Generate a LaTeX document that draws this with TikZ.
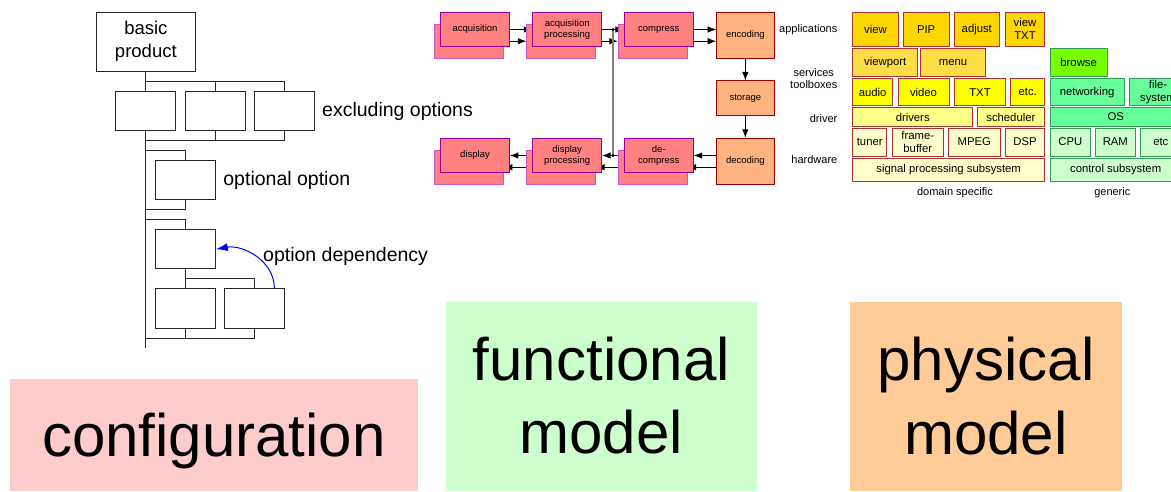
\documentclass[tikz,border=0pt]{standalone}
\usepackage{fontspec}
\setmainfont{Liberation Sans}
\usetikzlibrary{arrows.meta,calc,backgrounds}

\definecolor{cfgfill}{HTML}{FFCCCC}
\definecolor{funfill}{HTML}{CCFFCC}
\definecolor{phyfill}{HTML}{FFCC99}
\definecolor{fnfill}{HTML}{FF8080}
\definecolor{fnline}{HTML}{990099}
\definecolor{fnbackline}{HTML}{CC55CC}
\definecolor{orgfill}{HTML}{FFB380}
\definecolor{orgline}{HTML}{990000}
\definecolor{domline}{HTML}{A83232}
\definecolor{genline}{HTML}{339955}
\definecolor{goldfill}{HTML}{FFD700}
\definecolor{goldlight}{HTML}{FFDD44}
\definecolor{yelfill}{HTML}{FFFF00}
\definecolor{drvfill}{HTML}{FFFF88}
\definecolor{hwfill}{HTML}{FFFFCC}
\definecolor{browsefill}{HTML}{77FF00}
\definecolor{netfill}{HTML}{66FF99}
\definecolor{ctlfill}{HTML}{CCFFCC}

\tikzset{
  optbox/.style={draw=black!85, fill=white, line width=1pt, minimum width=60pt, minimum height=39.5pt, inner sep=0pt},
  treeline/.style={draw=black!85, line width=1pt},
  cfglabel/.style={inner sep=0pt, font=\fontsize{19.5}{23}\selectfont},
  fnbox/.style={draw=fnline, fill=fnfill, line width=1pt, minimum width=68.8pt, minimum height=34.4pt, inner sep=0pt, align=center, font=\fontsize{9.5}{10.7}\selectfont},
  fnback/.style={fnbox, draw=fnbackline},
  orgbox/.style={fnbox, draw=orgline, fill=orgfill, minimum width=57.3pt},
  flowarrow/.style={draw=black, line width=0.9pt, -{Latex[length=8.5pt,width=6.5pt]}},
  sidelabel/.style={inner sep=0pt, align=center, font=\fontsize{11}{12.7}\selectfont},
  dombox/.style={draw=domline, line width=0.9pt, inner sep=0pt, align=center, font=\fontsize{11.3}{13.5}\selectfont},
  genbox/.style={dombox, draw=genline},
  biglabel/.style={inner sep=0pt, font=\fontsize{60}{73}\selectfont}
}

\begin{document}
\begin{tikzpicture}[x=1pt,y=-1pt]
\clip (0,0) rectangle (1171,491);

% configuration
\node[optbox, minimum width=99pt, minimum height=59pt, align=center, font=\fontsize{18.5}{23}\selectfont] (bp) at (145.85,41.5) {basic\\product};
\node[optbox] (ex1) at (145.85,111) {};
\node[optbox] (ex2) at (215.3,111) {};
\node[optbox] (ex3) at (284.5,111) {};
\node[optbox] (opt) at (185.3,180) {};
\node[optbox] (dep) at (185.3,249.2) {};
\node[optbox] (sub1) at (185.3,308.5) {};
\node[optbox] (sub2) at (254.85,308.5) {};
\coordinate (exin) at (145.85,81);
\coordinate (exout) at (145.85,140.3);
\coordinate (optin) at (145.85,150.7);
\coordinate (optout) at (145.85,209.3);
\coordinate (depin) at (145.85,219.7);
\coordinate (subin) at (185.3,278.3);
\coordinate (subout) at (145.85,338);
\coordinate (spineend) at (145.85,348);
\begin{scope}[on background layer]
\draw[treeline] (bp.south) -- (spineend);
\draw[treeline] (exin) -| (ex3.north);
\draw[treeline] (ex2.north) -- (ex2.north |- exin);
\draw[treeline] (exout) -| (ex3.south);
\draw[treeline] (ex2.south) -- (ex2.south |- exout);
\draw[treeline] (optin) -| (opt.north);
\draw[treeline] (optout) -| (opt.south);
\draw[treeline] (depin) -| (dep.north);
\draw[treeline] (dep.south) -- (sub1.north);
\draw[treeline] (subin) -| (sub2.north);
\draw[treeline] (subout) -| (sub2.south);
\draw[treeline] (sub1.south) -- (sub1.south |- subout);
\end{scope}
\draw[blue, line width=1pt, -{Latex[length=12pt,width=8pt]}] ([xshift=19.5pt]sub2.north) to[out=90,in=10] (dep.east);
\node[cfglabel, anchor=west] (exlabel) at ([xshift=7pt]ex3.east) {excluding options};
\node[cfglabel, anchor=west] (optlabel) at ([xshift=7.4pt]opt.east) {optional option};
\node[cfglabel, anchor=west] (deplabel) at (263,256.7) {option dependency};

% functional model
\node[fnback] (acqb) at (469,41.2) {};
\node[fnbox] (acq) at (475,29.5) {acquisition};
\node[fnback] (acqpb) at (561.2,41.2) {};
\node[fnbox] (acqp) at (567.2,29.5) {acquisition\\processing};
\node[fnback] (compb) at (652.8,41.2) {};
\node[fnbox] (comp) at (658.8,29.5) {compress};
\node[orgbox, minimum height=46pt] (enc) at (745.35,35.3) {encoding};
\node[orgbox] (stor) at (745.35,98.15) {storage};
\node[orgbox, minimum height=46pt] (dec) at (745.35,161.3) {decoding};
\node[fnback] (decompb) at (652.8,167.2) {};
\node[fnbox] (decomp) at (658.8,155.5) {de-\\compress};
\node[fnback] (disppb) at (561.2,167.2) {};
\node[fnbox] (dispp) at (567.2,155.5) {display\\processing};
\node[fnback] (dispb) at (469,167.2) {};
\node[fnbox] (disp) at (475,155.5) {display};
\coordinate (tap) at ($(acqp.east)!0.5!(comp.west)$);
\coordinate (join) at (tap |- dispp.east);
\begin{scope}[on background layer]
\draw[flowarrow] (acq.east) -- (acqp.west);
\draw[flowarrow] (acq.east |- acqpb.west) -- (acqpb.west);
\draw[flowarrow] (acqp.east) -- (comp.west);
\draw[flowarrow] (acqp.east |- compb.west) -- (compb.west);
\draw[flowarrow] (comp.east) -- (enc.west |- comp.east);
\draw[flowarrow] (comp.east |- compb.east) -- (enc.west |- compb.east);
\draw[flowarrow] (enc.south) -- (stor.north);
\draw[flowarrow] (stor.south) -- (dec.north);
\draw[flowarrow] (dec.west |- decomp.east) -- (decomp.east);
\draw[flowarrow] (dec.west |- decompb.east) -- (decompb.east);
\draw[flowarrow] (decomp.west) -- (dispp.east);
\draw[flowarrow] (decomp.west |- disppb.east) -- (disppb.east);
\draw[flowarrow] (dispp.west) -- (disp.east);
\draw[flowarrow] (dispp.west |- dispb.east) -- (dispb.east);
\draw[gray, line width=1.6pt] (tap) -- (join);
\fill (tap) circle (1.5pt);
\fill (join) circle (1.5pt);
\end{scope}
\node[sidelabel, anchor=east] (lapp) at (837.5,29.3) {applications};
\node[sidelabel, anchor=east] (lsrv) at (837.5,78.7) {services\\toolboxes};
\node[sidelabel, anchor=east] (ldrv) at (837.5,119) {driver};
\node[sidelabel, anchor=east] (lhw) at (837.5,159.3) {hardware};

% physical model, domain specific
\node[dombox, fill=goldfill, minimum width=45.6pt, minimum height=33.7pt] (view) at (875.5,29.15) {view};
\node[dombox, fill=goldfill, minimum width=45.7pt, minimum height=33.7pt] (pip) at (926.15,29.15) {PIP};
\node[dombox, fill=goldfill, minimum width=45pt, minimum height=33.7pt] (adjust) at (976.8,29.15) {adjust};
\node[dombox, fill=goldfill, minimum width=39.4pt, minimum height=33.7pt] (viewtxt) at (1025,29.15) {view\\TXT};
\node[dombox, fill=goldlight, minimum width=65pt, minimum height=27.7pt] (viewport) at (885.2,62.15) {viewport};
\node[dombox, fill=goldlight, minimum width=65.4pt, minimum height=27.7pt] (menu) at (953,62.15) {menu};
\node[dombox, fill=yelfill, minimum width=40pt, minimum height=27pt] (audio) at (872.7,92.2) {audio};
\node[dombox, fill=yelfill, minimum width=51pt, minimum height=27pt] (video) at (923.5,92.2) {video};
\node[dombox, fill=yelfill, minimum width=51.4pt, minimum height=27pt] (txt) at (980,92.2) {TXT};
\node[dombox, fill=yelfill, minimum width=34pt, minimum height=27pt] (etcsw) at (1027.7,92.2) {etc.};
\node[dombox, fill=drvfill, minimum width=120pt, minimum height=18.6pt] (drivers) at (912.7,117) {drivers};
\node[dombox, fill=drvfill, minimum width=67.7pt, minimum height=18.6pt] (sched) at (1010.85,117) {scheduler};
\node[dombox, fill=hwfill, minimum width=34pt, minimum height=28pt] (tuner) at (869.7,142) {tuner};
\node[dombox, fill=hwfill, minimum width=51pt, minimum height=28pt] (fbuf) at (917.8,142) {frame-\\buffer};
\node[dombox, fill=hwfill, minimum width=51.3pt, minimum height=28pt] (mpeg) at (974.35,142) {MPEG};
\node[dombox, fill=hwfill, minimum width=39.4pt, minimum height=28pt] (dsp) at (1025,142) {DSP};
\node[dombox, fill=hwfill, minimum width=192pt, minimum height=23.4pt] (sps) at (948.7,170) {signal processing subsystem};
\node[sidelabel] (ldom) at (955,192.3) {domain specific};

% physical model, generic
\node[genbox, fill=browsefill, minimum width=56.7pt, minimum height=27.7pt] (browse) at (1078.65,62.15) {browse};
\node[genbox, fill=netfill, minimum width=73.7pt, minimum height=27pt] (net) at (1087.15,92.2) {networking};
\node[genbox, fill=netfill, minimum width=58pt, minimum height=27pt] (fsys) at (1158,92.2) {file-\\system};
\node[genbox, fill=netfill, minimum width=131pt, minimum height=18.6pt] (os) at (1115.7,117) {OS};
\node[genbox, fill=ctlfill, minimum width=40pt, minimum height=28pt] (cpu) at (1070.3,142) {CPU};
\node[genbox, fill=ctlfill, minimum width=40pt, minimum height=28pt] (ram) at (1115.3,142) {RAM};
\node[genbox, fill=ctlfill, minimum width=40.3pt, minimum height=28pt] (etchw) at (1160.85,142) {etc};
\node[genbox, fill=ctlfill, minimum width=130.7pt, minimum height=23.4pt] (ctl) at (1115.65,170) {control subsystem};
\node[sidelabel] (lgen) at (1112.3,192.3) {generic};

% view labels
\node[fill=cfgfill, minimum width=407.7pt, minimum height=112pt, inner sep=0pt] (cfgbox) at (213.85,435) {};
\node[biglabel, anchor=base] (cfgtext) at (213.85,456.7) {configuration};
\node[fill=funfill, minimum width=310.7pt, minimum height=189.3pt, inner sep=0pt] (funbox) at (601.35,396.35) {};
\node[biglabel, anchor=base] (funtext) at (601.35,380) {functional};
\node[biglabel, anchor=base] (funmodel) at (601.35,453.3) {model};
\node[fill=phyfill, minimum width=272pt, minimum height=189.3pt, inner sep=0pt] (phybox) at (986,396.35) {};
\node[biglabel, anchor=base] (phytext) at (986,380.7) {physical};
\node[biglabel, anchor=base] (phymodel) at (986,454) {model};
\end{tikzpicture}
\end{document}
